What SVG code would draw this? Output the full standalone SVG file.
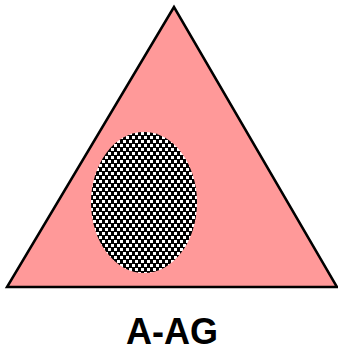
<svg xmlns="http://www.w3.org/2000/svg" width="338" height="353" viewBox="0 0 338 353">
<defs>
<pattern id="dots" width="6" height="8" patternUnits="userSpaceOnUse">
<rect width="6" height="8" fill="#000"/>
<rect x="0" y="0" width="3" height="3" fill="#fff"/>
<rect x="3" y="4" width="3" height="3" fill="#fff"/>
</pattern>
<style>
.tri{fill:#ff9999;stroke:#000;stroke-width:2.5;stroke-linejoin:miter}
.lbl{font-family:"Liberation Sans",Arial,sans-serif;font-weight:bold;font-size:36px;fill:#000}
</style>
</defs>
<g id="triangle">
<polygon class="tri" points="174,7 7,287 337,287"/>
</g>
<g id="ellipse">
<ellipse cx="144" cy="202.5" rx="53" ry="70.5" fill="url(#dots)"/>
</g>
<g id="label">
<text class="lbl" x="172" y="344" text-anchor="middle">A-AG</text>
</g>
</svg>
